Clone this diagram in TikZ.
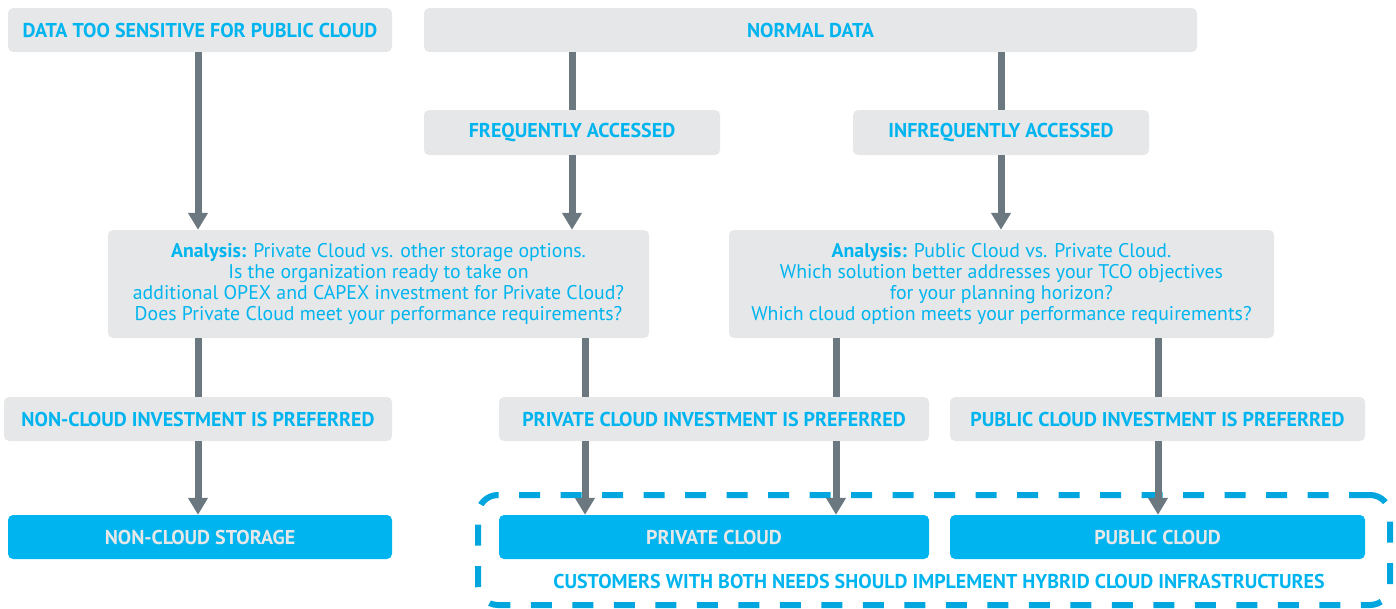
\documentclass[tikz,border=0pt]{standalone}
\usepackage{fontspec}
\setmainfont{PT Sans}
\usetikzlibrary{arrows.meta}
\definecolor{boxgray}{HTML}{E6E7E8}
\definecolor{cyantext}{HTML}{00B5EF}
\definecolor{arrowgray}{HTML}{6C7880}
\definecolor{dashblue}{HTML}{00A6DD}
\begin{document}
\begin{tikzpicture}[x=1pt,y=-1pt,
  labelfont/.style={font=\fontsize{20}{21.3}\selectfont\bfseries},
  bodyfont/.style={font=\fontsize{19.8}{21.3}\selectfont},
  graybox/.style={fill=boxgray, rounded corners=5pt, inner sep=0pt, text=cyantext, labelfont, align=center},
  questionbox/.style={graybox, bodyfont},
  bluebox/.style={fill=cyantext, rounded corners=5pt, inner sep=0pt, text=boxgray, labelfont, minimum height=44pt},
  flow/.style={draw=arrowgray, line width=7pt},
  flowtip/.style={flow, -{Triangle[width=19pt,length=17pt]}},
]
\useasboundingbox (0,0) rectangle (1396,608);

% hybrid frame around the two cloud targets
\node[draw=dashblue, line width=6pt, dash pattern=on 21pt off 20.5pt, rounded corners=20pt,
      minimum width=912pt, minimum height=110pt, inner sep=0pt] (frame) at (934,550) {};

% top row
\node[graybox, minimum width=384pt, minimum height=44pt] (sens) at (200,30) {DATA TOO SENSITIVE FOR PUBLIC CLOUD};
\node[graybox, minimum width=773pt, minimum height=44pt] (normal) at (810.5,30) {NORMAL DATA};

% access frequency
\node[graybox, minimum width=296pt, minimum height=45pt] (freq) at (572,132.5) {FREQUENTLY ACCESSED};
\node[graybox, minimum width=296pt, minimum height=45pt] (infreq) at (1001,132.5) {INFREQUENTLY ACCESSED};

% analysis boxes (text sits slightly below the box centre)
\node[questionbox, minimum width=541pt, minimum height=108pt] (an1) at (378.5,284)
  {\vspace*{4pt}\textbf{Analysis:} Private Cloud vs. other storage options.\\
   Is the organization ready to take on\\
   additional OPEX and CAPEX investment for Private Cloud?\\
   Does Private Cloud meet your performance requirements?};
\node[questionbox, minimum width=545pt, minimum height=108pt] (an2) at (1001.5,284)
  {\vspace*{4pt}\textbf{Analysis:} Public Cloud vs. Private Cloud.\\
   Which solution better addresses your TCO objectives\\
   for your planning horizon?\\
   Which cloud option meets your performance requirements?};

% preferences
\node[graybox, minimum width=388pt, minimum height=44pt] (nonpref) at (198,419) {NON-CLOUD INVESTMENT IS PREFERRED};
\node[graybox, minimum width=430pt, minimum height=44pt] (privpref) at (714,419) {PRIVATE CLOUD INVESTMENT IS PREFERRED};
\node[graybox, minimum width=415pt, minimum height=44pt] (pubpref) at (1157.5,419) {PUBLIC CLOUD INVESTMENT IS PREFERRED};

% storage targets
\node[bluebox, minimum width=384pt] (noncloud) at (200,537) {NON-CLOUD STORAGE};
\node[bluebox, minimum width=430pt] (priv) at (714,537) {PRIVATE CLOUD};
\node[bluebox, minimum width=415pt] (pub) at (1157.5,537) {PUBLIC CLOUD};

\node[text=cyantext, labelfont, inner sep=0pt] (hybrid) at (939,581)
  {CUSTOMERS WITH BOTH NEEDS SHOULD IMPLEMENT HYBRID CLOUD INFRASTRUCTURES};

% column positions of the connectors
\coordinate (colA) at (198,0);
\coordinate (colP) at (585,0);
\coordinate (colQ) at (836,0);
\coordinate (colR) at (1158,0);

% connectors
\draw[flowtip] (sens.south -| colA) -- (an1.north -| colA);
\draw[flow] (normal.south -| freq.north) -- (freq.north);
\draw[flowtip] (freq.south) -- (an1.north -| freq.south);
\draw[flow] (normal.south -| infreq.north) -- (infreq.north);
\draw[flowtip] (infreq.south) -- (an2.north -| infreq.south);

\draw[flow] (an1.south -| colA) -- (nonpref.north -| colA);
\draw[flowtip] (nonpref.south -| colA) -- (noncloud.north -| colA);

\draw[flow] (an1.south -| colP) -- (privpref.north -| colP);
\draw[flowtip] (privpref.south -| colP) -- (priv.north -| colP);

\draw[flow] (an2.south -| colQ) -- (privpref.north -| colQ);
\draw[flowtip] (privpref.south -| colQ) -- (priv.north -| colQ);

\draw[flow] (an2.south -| colR) -- (pubpref.north -| colR);
\draw[flowtip] (pubpref.south -| colR) -- (pub.north -| colR);
\end{tikzpicture}
\end{document}
